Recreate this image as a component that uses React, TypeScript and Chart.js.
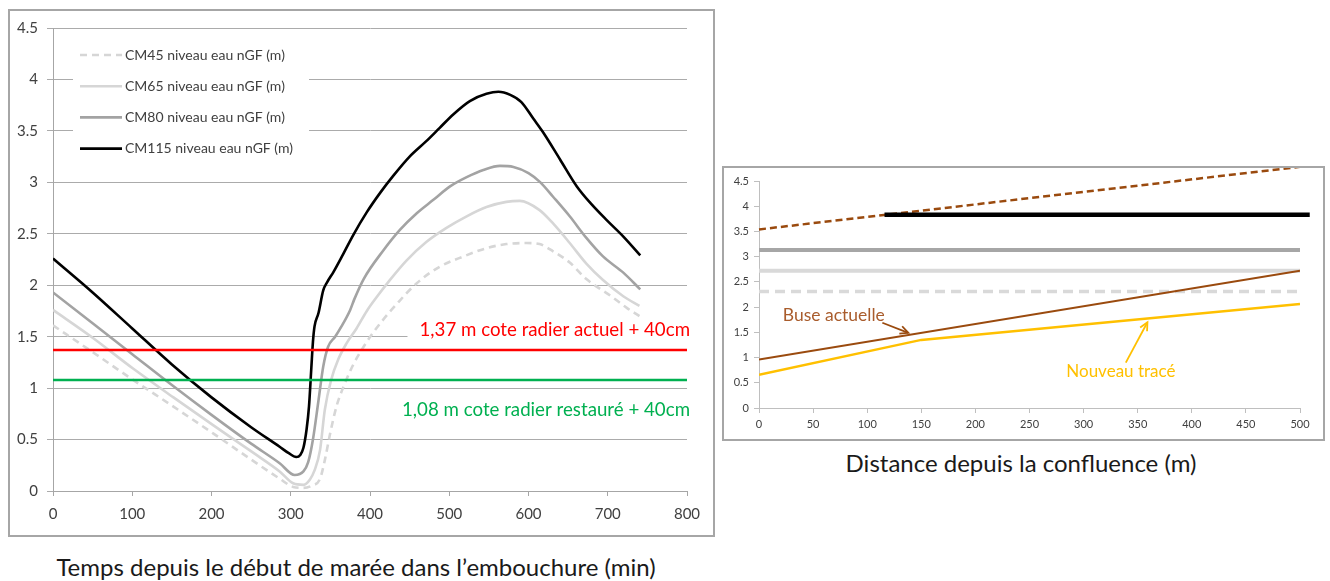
import React, { useEffect, useRef } from "react";
import { Chart, registerables } from "chart.js";

Chart.register(...registerables);
Chart.defaults.font.family = "Lato, 'Open Sans', sans-serif";

// ---------- Left chart: water level vs time (min) ----------
const cm115X = [0, 50, 100, 150, 200, 250, 286, 297, 307, 312, 316, 320, 323, 326, 328, 330, 335, 341, 346, 354, 366, 379, 396, 413, 429, 450, 471, 488, 505, 526, 547, 562, 577, 591, 606, 619, 640, 661, 678, 699, 720, 741];
const cm115Y = [2.26, 1.93, 1.58, 1.23, 0.91, 0.62, 0.43, 0.37, 0.33, 0.35, 0.42, 0.6, 0.82, 1.2, 1.45, 1.6, 1.73, 1.95, 2.03, 2.13, 2.3, 2.49, 2.71, 2.9, 3.06, 3.25, 3.4, 3.53, 3.66, 3.79, 3.86, 3.88, 3.85, 3.78, 3.62, 3.48, 3.22, 2.96, 2.8, 2.63, 2.47, 2.29];

const cm80X = [0, 50, 100, 150, 200, 250, 286, 305, 316, 322, 328, 335, 341, 347, 356, 364, 375, 380, 392, 417, 438, 459, 480, 501, 522, 543, 564, 581, 600, 615, 631, 652, 673, 694, 720, 741];
const cm80Y = [1.93, 1.63, 1.33, 1.03, 0.74, 0.46, 0.27, 0.155, 0.19, 0.28, 0.5, 0.88, 1.21, 1.4, 1.5, 1.6, 1.76, 1.86, 2.06, 2.34, 2.54, 2.7, 2.83, 2.96, 3.05, 3.12, 3.16, 3.15, 3.09, 3.0, 2.86, 2.67, 2.46, 2.28, 2.12, 1.96];

const cm65X = [0, 50, 101, 152, 202, 253, 286, 303, 316, 324, 330, 337, 343, 351, 360, 370, 383, 396, 408, 425, 446, 471, 497, 522, 547, 572, 589, 614, 631, 652, 673, 694, 720, 740];
const cm65Y = [1.76, 1.49, 1.19, 0.91, 0.64, 0.37, 0.19, 0.075, 0.06, 0.11, 0.2, 0.4, 0.79, 1.08, 1.28, 1.43, 1.58, 1.75, 1.88, 2.05, 2.24, 2.42, 2.56, 2.67, 2.76, 2.81, 2.82, 2.73, 2.6, 2.41, 2.21, 2.05, 1.89, 1.8];

const cm45X = [0, 50, 101, 152, 202, 253, 286, 303, 316, 326, 337, 343, 350, 358, 368, 379, 396, 413, 434, 459, 488, 518, 547, 572, 598, 614, 631, 652, 673, 703, 724, 740];
const cm45Y = [1.61, 1.35, 1.08, 0.82, 0.56, 0.29, 0.12, 0.04, 0.03, 0.05, 0.12, 0.3, 0.57, 0.83, 1.04, 1.23, 1.45, 1.63, 1.82, 2.02, 2.18, 2.28, 2.36, 2.4, 2.41, 2.4, 2.33, 2.22, 2.06, 1.9, 1.78, 1.7];

const thresholdX = [0, 800];
const redLevel = 1.37;
const greenLevel = 1.08;

const timeTicks = [0, 100, 200, 300, 400, 500, 600, 700, 800];
const levelTicks = [0, 0.5, 1, 1.5, 2, 2.5, 3, 3.5, 4, 4.5];

const legendLabels = [
  "CM45 niveau eau nGF (m)",
  "CM65 niveau eau nGF (m)",
  "CM80 niveau eau nGF (m)",
  "CM115 niveau eau nGF (m)",
];
const redText = "1,37 m cote radier actuel + 40cm";
const greenText = "1,08 m cote radier restauré + 40cm";
const leftTitle = "Temps depuis le début de marée dans l’embouchure (min)";

// ---------- Right chart: levels vs distance (m) ----------
const distX = [0, 500];
const cm45Level = 2.31;
const cm65Level = 2.72;
const cm80Level = 3.13;
const cm115Level = 3.83;
const cm115DistX = [116, 509];
const buseX = [0, 500];
const buseY = [0.96, 2.72];
const buseTopX = [0, 500];
const buseTopY = [3.54, 4.78];
const nouveauX = [0, 150, 500];
const nouveauY = [0.66, 1.35, 2.06];
const distTicks = [0, 50, 100, 150, 200, 250, 300, 350, 400, 450, 500];
const rightTitle = "Distance depuis la confluence (m)";
const buseLabel = "Buse actuelle";
const nouveauLabel = "Nouveau tracé";

const BROWN = "#9A4A0E";
const BROWN_TEXT = "#A95C2C";
const GOLD = "#FFC000";
const TICK_COLOR = "#404040";

const pts = (xs: number[], ys: number[]) => xs.map((x, i) => ({ x, y: ys[i] }));
const flat = (xs: number[], level: number) => xs.map((x) => ({ x, y: level }));

const leftDecor = {
  id: "leftDecor",
  beforeDatasetsDraw(chart: any) {
    const ctx = chart.ctx;
    const { left, top } = chart.chartArea;
    const xs = chart.scales.x;
    const ys = chart.scales.y;
    ctx.save();
    // legend box
    ctx.fillStyle = "#ffffff";
    ctx.fillRect(left + 20, top + 10, 236, 124);
    legendLabels.forEach((lab, i) => {
      const ds = chart.data.datasets.find((d: any) => d.label === lab);
      if (!ds) return;
      const cy = top + 27 + i * 31.2;
      ctx.beginPath();
      ctx.strokeStyle = ds.borderColor;
      ctx.lineWidth = ds.borderWidth;
      ctx.setLineDash(ds.borderDash || []);
      ctx.moveTo(left + 27, cy);
      ctx.lineTo(left + 69, cy);
      ctx.stroke();
      ctx.setLineDash([]);
      ctx.fillStyle = "#404040";
      ctx.font = "14px Lato, 'Open Sans', sans-serif";
      ctx.textAlign = "left";
      ctx.textBaseline = "middle";
      ctx.fillText(lab, left + 72, cy);
    });
    // threshold labels
    ctx.font = "18.7px Lato, 'Open Sans', sans-serif";
    ctx.textAlign = "right";
    ctx.textBaseline = "middle";
    const rx = xs.getPixelForValue(800) + 3;
    const ry = ys.getPixelForValue(redLevel) - 20;
    const rw = ctx.measureText(redText).width;
    ctx.fillStyle = "#ffffff";
    ctx.fillRect(rx - rw - 12, ry - 11, rw + 14, 22);
    ctx.fillStyle = "#FF0000";
    ctx.fillText(redText, rx, ry);
    const gy = ys.getPixelForValue(greenLevel) + 30;
    ctx.fillStyle = "#00B050";
    ctx.fillText(greenText, rx, gy);
    ctx.restore();
  },
};

function arrow(ctx: any, x1: number, y1: number, x2: number, y2: number, color: string) {
  ctx.strokeStyle = color;
  ctx.lineWidth = 1.8;
  ctx.beginPath();
  ctx.moveTo(x1, y1);
  ctx.lineTo(x2, y2);
  ctx.stroke();
  const a = Math.atan2(y2 - y1, x2 - x1);
  const L = 9;
  const s = 0.45;
  ctx.beginPath();
  ctx.moveTo(x2 - L * Math.cos(a - s), y2 - L * Math.sin(a - s));
  ctx.lineTo(x2, y2);
  ctx.lineTo(x2 - L * Math.cos(a + s), y2 - L * Math.sin(a + s));
  ctx.stroke();
}

const rightDecor = {
  id: "rightDecor",
  afterDatasetsDraw(chart: any) {
    const ctx = chart.ctx;
    const xs = chart.scales.x;
    const ys = chart.scales.y;
    const px = (v: number) => xs.getPixelForValue(v);
    const py = (v: number) => ys.getPixelForValue(v);
    ctx.save();
    ctx.font = "17.5px Lato, 'Open Sans', sans-serif";
    ctx.textBaseline = "middle";
    ctx.textAlign = "left";
    ctx.fillStyle = BROWN_TEXT;
    ctx.fillText(buseLabel, px(22), py(1.83));
    arrow(ctx, px(114), py(1.69), px(138), py(1.49), BROWN);
    ctx.font = "17px Lato, 'Open Sans', sans-serif";
    ctx.fillStyle = GOLD;
    ctx.fillText(nouveauLabel, px(284), py(0.72));
    arrow(ctx, px(339), py(0.9), px(359), py(1.7), GOLD);
    ctx.restore();
  },
};

function tickSetter(values: number[]) {
  return (s: any) => {
    s.ticks = values.map((v) => ({ value: v }));
  };
}

export default function App() {
  const leftRef = useRef<HTMLCanvasElement | null>(null);
  const rightRef = useRef<HTMLCanvasElement | null>(null);

  useEffect(() => {
    const curve = (label: string, xs: number[], ys: number[], color: string, dash?: number[]) => ({
      label,
      data: pts(xs, ys),
      borderColor: color,
      backgroundColor: color,
      borderWidth: 2.6,
      borderDash: dash || [],
      pointRadius: 0,
      fill: false,
      cubicInterpolationMode: "monotone",
    });

    const left = new Chart(leftRef.current as HTMLCanvasElement, {
      type: "line",
      data: {
        datasets: [
          { label: "seuil actuel", data: flat(thresholdX, redLevel), borderColor: "#FF0000", borderWidth: 2.5, pointRadius: 0 },
          { label: "seuil restauré", data: flat(thresholdX, greenLevel), borderColor: "#00B050", borderWidth: 2.5, pointRadius: 0 },
          curve(legendLabels[3], cm115X, cm115Y, "#000000"),
          curve(legendLabels[2], cm80X, cm80Y, "#A3A3A3"),
          curve(legendLabels[1], cm65X, cm65Y, "#D6D6D6"),
          curve(legendLabels[0], cm45X, cm45Y, "#D6D6D6", [7, 5]),
        ] as any,
      },
      options: {
        responsive: false,
        animation: false,
        layout: { padding: { top: 19, right: 27, left: 0, bottom: 0 } },
        plugins: { legend: { display: false }, tooltip: { enabled: false } },
        scales: {
          x: {
            type: "linear",
            min: 0,
            max: 800,
            afterBuildTicks: tickSetter(timeTicks),
            afterFit: (s: any) => { s.height = 45; },
            grid: { drawOnChartArea: false, drawTicks: true, tickLength: 5, color: "#A6A6A6" },
            border: { color: "#A6A6A6" },
            ticks: { padding: 9, color: TICK_COLOR, font: { size: 15 }, maxRotation: 0, autoSkip: false, callback: (v: any) => String(v) },
          },
          y: {
            type: "linear",
            min: 0,
            max: 4.5,
            afterBuildTicks: tickSetter(levelTicks),
            afterFit: (s: any) => { s.width = 45; },
            grid: { color: "#ABABAB", tickLength: 6 },
            border: { color: "#A6A6A6" },
            ticks: { padding: 9, color: TICK_COLOR, font: { size: 15 }, autoSkip: false, callback: (v: any) => String(v) },
          },
        },
      } as any,
      plugins: [leftDecor],
    });

    const right = new Chart(rightRef.current as HTMLCanvasElement, {
      type: "line",
      data: {
        datasets: [
          { label: "Buse actuelle", data: pts(buseX, buseY), borderColor: BROWN, borderWidth: 2, pointRadius: 0 },
          { label: "Nouveau tracé", data: pts(nouveauX, nouveauY), borderColor: GOLD, borderWidth: 2.5, pointRadius: 0 },
          { label: "CM115", data: flat(cm115DistX, cm115Level), borderColor: "#000000", borderWidth: 4.5, pointRadius: 0, clip: false },
          { label: "Buse haut", data: pts(buseTopX, buseTopY), borderColor: BROWN, borderWidth: 2.5, borderDash: [7, 4], pointRadius: 0, clip: false },
          { label: "CM80", data: flat(distX, cm80Level), borderColor: "#A6A6A6", borderWidth: 4, pointRadius: 0 },
          { label: "CM65", data: flat(distX, cm65Level), borderColor: "#D9D9D9", borderWidth: 4, pointRadius: 0 },
          { label: "CM45", data: flat(distX, cm45Level), borderColor: "#D9D9D9", borderWidth: 3.5, borderDash: [10, 6], pointRadius: 0 },
        ] as any,
      },
      options: {
        responsive: false,
        animation: false,
        layout: { padding: { top: 15, right: 24, left: 0, bottom: 0 } },
        plugins: { legend: { display: false }, tooltip: { enabled: false } },
        scales: {
          x: {
            type: "linear",
            min: 0,
            max: 500,
            afterBuildTicks: tickSetter(distTicks),
            afterFit: (s: any) => { s.height = 32; },
            grid: { drawOnChartArea: false, drawTicks: true, tickLength: 5, color: "#BFBFBF" },
            border: { color: "#BFBFBF" },
            ticks: { padding: 5, color: TICK_COLOR, font: { size: 11 }, maxRotation: 0, autoSkip: false, callback: (v: any) => String(v) },
          },
          y: {
            type: "linear",
            min: 0,
            max: 4.5,
            afterBuildTicks: tickSetter(levelTicks),
            afterFit: (s: any) => { s.width = 37; },
            grid: { drawOnChartArea: false, drawTicks: true, tickLength: 5, color: "#BFBFBF" },
            border: { color: "#BFBFBF" },
            ticks: { padding: 5, color: TICK_COLOR, font: { size: 11 }, autoSkip: false, callback: (v: any) => String(v) },
          },
        },
      } as any,
      plugins: [rightDecor],
    });

    return () => {
      left.destroy();
      right.destroy();
    };
  }, []);

  const abs = (l: number, t: number, w: number, h: number): React.CSSProperties => ({
    position: "absolute",
    left: l,
    top: t,
    width: w,
    height: h,
  });

  return (
    <div style={{ position: "fixed", left: 0, top: 0, width: 1330, height: 581, background: "#ffffff", overflow: "hidden", fontFamily: "Lato, 'Open Sans', sans-serif" }}>
      <canvas ref={leftRef} width={706} height={527} style={{ ...abs(8, 9, 706, 527), display: "block" }} />
      <div style={{ ...abs(8, 9, 707, 528), boxSizing: "border-box", border: "2px solid #A6A6A6", pointerEvents: "none" }} />
      <canvas ref={rightRef} width={602} height={274} style={{ ...abs(722, 166, 602, 274), display: "block" }} />
      <div style={{ ...abs(722, 166, 603, 275), boxSizing: "border-box", border: "2px solid #A6A6A6", pointerEvents: "none" }} />
      <div style={{ position: "absolute", left: 356, top: 553, transform: "translateX(-50%)", whiteSpace: "nowrap", fontSize: 24, lineHeight: "28px", color: "#1a1a1a" }}>
        {leftTitle}
      </div>
      <div style={{ position: "absolute", left: 1021, top: 449, transform: "translateX(-50%)", whiteSpace: "nowrap", fontSize: 24, lineHeight: "28px", color: "#1a1a1a" }}>
        {rightTitle}
      </div>
    </div>
  );
}
